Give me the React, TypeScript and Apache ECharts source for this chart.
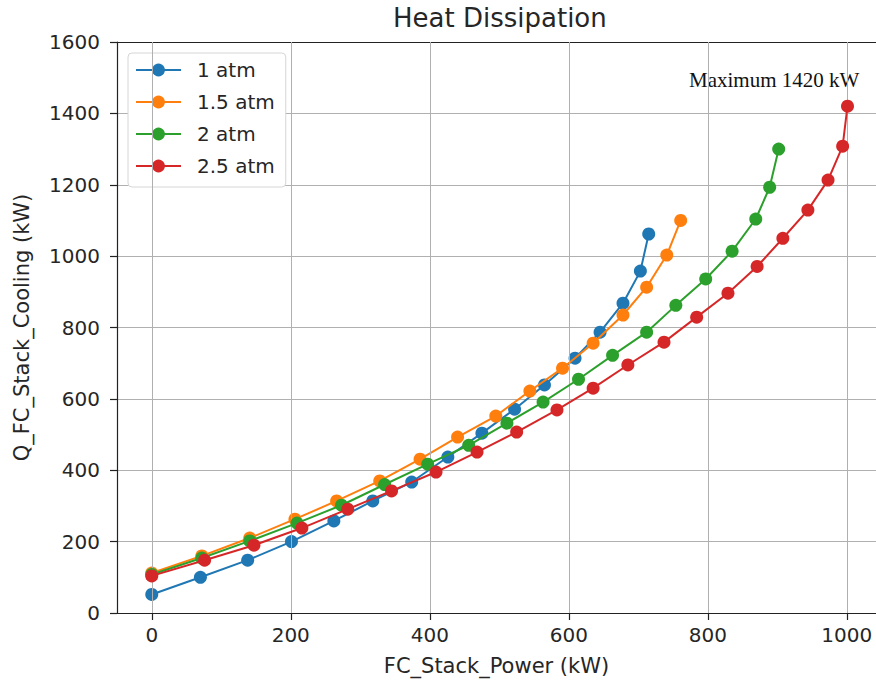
import React, { useEffect, useRef } from "react";
import * as echarts from "echarts";

const xTicks = [0, 200, 400, 600, 800, 1000];

const atm1X = [0, 70, 138, 201, 262, 318, 374, 426, 475, 522, 565, 609, 645, 678, 703, 715];
const atm1Y = [52, 100, 148, 200, 258, 314, 367, 437, 504, 571, 639, 714, 787, 868, 958, 1062];

const atm15X = [0, 72, 141, 206, 266, 328, 386, 440, 495, 544, 591, 635, 678, 712, 741, 761];
const atm15Y = [112, 160, 210, 263, 314, 370, 431, 493, 552, 622, 686, 756, 835, 913, 1003, 1100];

const atm2X = [0, 72, 141, 209, 273, 335, 397, 456, 511, 563, 614, 663, 712, 754, 797, 835, 869, 889, 902];
const atm2Y = [108, 154, 202, 252, 302, 360, 417, 470, 532, 591, 655, 722, 787, 862, 936, 1014, 1104, 1193, 1300];

const atm25X = [0, 76, 147, 216, 282, 345, 409, 468, 525, 583, 635, 685, 737, 784, 829, 871, 908, 944, 973, 994, 1001];
const atm25Y = [104, 148, 190, 238, 291, 342, 395, 451, 507, 569, 630, 695, 759, 829, 896, 971, 1050, 1129, 1213, 1308, 1420];

const seriesNames = ["1 atm", "1.5 atm", "2 atm", "2.5 atm"];
const seriesColors = ["#1f77b4", "#ff7f0e", "#2ca02c", "#d62728"];
const seriesX = [atm1X, atm15X, atm2X, atm25X];
const seriesY = [atm1Y, atm15Y, atm2Y, atm25Y];

const FONT = "DejaVu Sans";
const TXT = "#262626";
const X_MIN = -50;
const X_MAX = 1042;

export default function App() {
  const ref = useRef<HTMLDivElement>(null);
  useEffect(() => {
    if (!ref.current) return;
    const chart = echarts.init(ref.current, null, { renderer: "svg" });
    const lineSeries = seriesNames.map((name, i) => ({
      name,
      type: "line",
      data: seriesX[i].map((x, j) => [x, seriesY[i][j]]),
      symbol: "circle",
      symbolSize: 13,
      showSymbol: true,
      lineStyle: { width: 2, color: seriesColors[i] },
      itemStyle: { color: seriesColors[i] },
      z: 3 + i,
      emphasis: { disabled: true },
    }));
    chart.setOption({
      animation: false,
      backgroundColor: "#ffffff",
      title: {
        text: "Heat Dissipation",
        left: 393,
        top: 5,
        padding: 0,
        textStyle: { fontFamily: FONT, fontSize: 26, fontWeight: "normal", color: TXT },
      },
      legend: {
        orient: "vertical",
        left: 128,
        top: 53,
        data: seriesNames,
        itemWidth: 45,
        itemHeight: 16,
        itemGap: 12,
        padding: [7, 11, 11, 7],
        backgroundColor: "#ffffff",
        borderColor: "#d6d6d6",
        borderWidth: 1,
        borderRadius: 4,
        textStyle: { fontFamily: FONT, fontSize: 20, color: TXT, lineHeight: 20, padding: [0, 0, 0, 11] },
      },
      grid: {
        left: 117,
        right: 0,
        top: 42,
        bottom: 70,
        show: false,
      },
      xAxis: [
        {
          type: "value",
          min: X_MIN,
          max: X_MAX,
          name: "FC_Stack_Power (kW)",
          nameLocation: "middle",
          nameGap: 42,
          nameTextStyle: { fontFamily: FONT, fontSize: 21, color: TXT },
          axisLine: { show: true, onZero: false, lineStyle: { color: "#222", width: 1.2 } },
          axisTick: { show: true, length: 7, customValues: xTicks, lineStyle: { color: "#222", width: 1.2 } },
          axisLabel: {
            customValues: xTicks,
            margin: 12,
            fontFamily: FONT,
            fontSize: 20,
            color: TXT,
            formatter: (v: number) => String(v),
          },
          splitLine: { show: false },
        },
        {
          type: "value",
          position: "top",
          min: X_MIN,
          max: X_MAX,
          axisLine: { show: true, onZero: false, lineStyle: { color: "#222", width: 1.2 } },
          axisTick: { show: false },
          axisLabel: { show: false },
          splitLine: { show: false },
        },
      ],
      yAxis: {
        type: "value",
        min: 0,
        max: 1600,
        interval: 200,
        name: "Q_FC_Stack_Cooling (kW)",
        nameLocation: "middle",
        nameGap: 85,
        nameTextStyle: { fontFamily: FONT, fontSize: 21, color: TXT },
        axisLine: { show: true, onZero: false, lineStyle: { color: "#222", width: 1.2 } },
        axisTick: { show: true, length: 7, lineStyle: { color: "#222", width: 1.2 } },
        axisLabel: { margin: 17, fontFamily: FONT, fontSize: 20, color: TXT, formatter: (v: number) => String(v) },
        splitLine: { show: true, lineStyle: { color: "#b0b0b0", width: 1 } },
      },
      graphic: [
        {
          type: "text",
          left: 689,
          top: 69,
          style: {
            text: "Maximum 1420 kW",
            fontFamily: "Liberation Serif",
            fontSize: 21,
            fill: "#111",
          },
        },
      ],
      series: [
        {
          type: "line",
          name: "grid-x",
          data: [],
          silent: true,
          z: 1,
          markLine: {
            silent: true,
            symbol: "none",
            label: { show: false },
            lineStyle: { color: "#b0b0b0", width: 1, type: "solid" },
            data: xTicks.map((v) => ({ xAxis: v })),
          },
        },
        ...lineSeries,
      ],
    });
    return () => chart.dispose();
  }, []);
  return <div ref={ref} style={{ position: "fixed", left: 0, top: 0, width: 876, height: 683 }} />;
}
